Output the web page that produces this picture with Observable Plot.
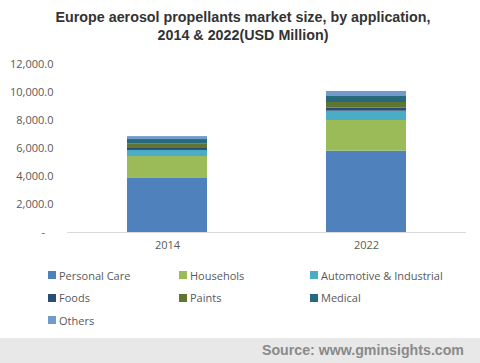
<!DOCTYPE html>
<html>
<head>
<meta charset="utf-8">
<script src="https://cdn.jsdelivr.net/npm/d3@7"></script>
<script src="https://cdn.jsdelivr.net/npm/@observablehq/plot@0.6"></script>
<style>
  html, body { margin: 0; padding: 0; background: #fff; }
  #wrap { position: relative; width: 480px; height: 363px; overflow: hidden; font-family: "Liberation Sans", Arial, sans-serif; }
  #title { position: absolute; top: 8px; left: 3px; width: 480px; text-align: center; font-weight: bold; font-size: 14.3px; line-height: 18px; color: #333; }
  #chart { position: absolute; top: 0; left: 0; }
  #legend { position: absolute; top: 264px; left: 48px; width: 430px; }
  #footer { position: absolute; top: 338px; left: 0; width: 480px; height: 25px; background: #e8e8e8; color: #8a8a8a; font-weight: bold; font-size: 14.2px; line-height: 25px; text-align: right; box-sizing: border-box; padding-right: 16px; }
  .lg-swatches-wrap { min-height: 0 !important; }
  .lg-swatches-wrap .lg-swatch { width: 131px; margin-right: 0 !important; height: 22.5px; white-space: nowrap; }
  .lg-swatch svg { margin-right: 3px !important; }
</style>
</head>
<body>
<div id="wrap">
  <div id="title">Europe aerosol propellants market size, by application,<br>2014 &amp; 2022(USD Million)</div>
  <div id="chart"></div>
  <div id="legend"></div>
  <div id="footer">Source: www.gminsights.com</div>
</div>
<script>
const years = ["2014", "2022"];
const segments = ["Personal Care", "Househols", "Automotive & Industrial", "Foods", "Paints", "Medical", "Others"];
const colors = ["#4f81bd", "#9bbb59", "#4bacc6", "#2c4d75", "#5f7530", "#276a7c", "#729aca"];
const values2014 = [3860, 1570, 430, 140, 310, 330, 210];
const values2022 = [5810, 2190, 665, 215, 405, 430, 360];
const yTicks = [0, 2000, 4000, 6000, 8000, 10000, 12000];

const data = [];
segments.forEach((s, i) => {
  data.push({year: years[0], segment: s, value: values2014[i]});
  data.push({year: years[1], segment: s, value: values2022[i]});
});

const fmt = d3.format(",.1f");
const chart = Plot.plot({
  width: 480,
  height: 255,
  marginTop: 64,
  marginBottom: 23,
  marginLeft: 67,
  marginRight: 14,
  style: {fontFamily: "'Open Sans', sans-serif", fontSize: "11px", color: "#595959", background: "transparent"},
  x: {domain: years, paddingInner: 0.598, paddingOuter: 0.3, label: null},
  y: {domain: [0, 12000], label: null},
  color: {domain: segments, range: colors},
  marks: [
    Plot.barY(data, {x: "year", y: "value", fill: "segment", order: segments}),
    Plot.ruleY([0], {stroke: "#d9d9d9", strokeWidth: 1.2}),
    Plot.axisY({ticks: yTicks, tickSize: 0, tickPadding: 14, tickFormat: d => d === 0 ? "-\u00a0\u00a0\u00a0" : fmt(d), label: null}),
    Plot.axisX({tickSize: 0, tickPadding: 9, label: null})
  ]
});
document.getElementById("chart").appendChild(chart);

const legend = Plot.legend({
  color: {domain: segments, range: colors},
  swatchSize: 8,
  className: "lg",
  style: {fontFamily: "'Open Sans', sans-serif", fontSize: "11px", color: "#595959", background: "transparent"}
});
document.getElementById("legend").appendChild(legend);
</script>
</body>
</html>
